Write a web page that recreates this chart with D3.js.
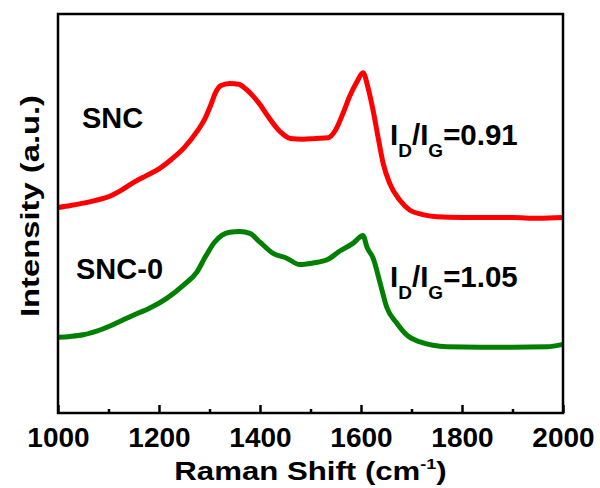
<!DOCTYPE html>
<html>
<head>
<meta charset="utf-8">
<script src="https://cdn.jsdelivr.net/npm/d3@7"></script>
<style>
  body { margin: 0; background: #fff; }
  text { font-family: "Liberation Sans", Arial, sans-serif; font-weight: bold; fill: #000; }
</style>
</head>
<body>
<div id="chart"></div>
<script>
// Raman spectra (intensity in arbitrary units)
const sncShift = [1000, 1025, 1050, 1075, 1100, 1125, 1150, 1175, 1200, 1225, 1250, 1275, 1290, 1302, 1312, 1322, 1340, 1358, 1372, 1385, 1400, 1415, 1440, 1460, 1485, 1510, 1535, 1550, 1565, 1578, 1592, 1604, 1614, 1624, 1634, 1644, 1657, 1677, 1697, 1720, 1750, 1800, 1850, 1900, 1950, 2000];
const sncIntensity = [51.5, 52, 52.6, 53.3, 54.2, 55.8, 57.8, 59.5, 61.2, 63.6, 66.5, 70.5, 73.5, 77, 80.3, 82, 82.6, 82.4, 81.2, 79.6, 77.3, 74.5, 70.5, 68.8, 68.6, 68.8, 69, 71, 75.3, 79.5, 83, 85.3, 81.5, 75.8, 69, 62.5, 57.5, 53.3, 50.8, 49.8, 49.2, 49, 49, 49, 48.8, 49];

const snc0Shift = [1000, 1024, 1050, 1083, 1117, 1149, 1182, 1216, 1248, 1275, 1292, 1310, 1325, 1340, 1360, 1380, 1400, 1426, 1453, 1479, 1505, 1533, 1558, 1584, 1604, 1612, 1624, 1638, 1651, 1671, 1691, 1717, 1770, 1836, 1901, 1968, 2000];
const snc0Intensity = [19, 19.2, 19.6, 20.8, 22.6, 24.5, 26.3, 28.8, 32, 35.3, 39.2, 42.8, 44.6, 45.3, 45.5, 45, 42.8, 40, 38.8, 37.2, 37.6, 38.4, 40.6, 42.5, 44.5, 41.5, 38.8, 32.5, 26.5, 22.5, 19.5, 17.8, 16.6, 16.5, 16.5, 16.6, 17.2];

const xTicks = [1000, 1200, 1400, 1600, 1800, 2000];
const xMinorTicks = [1100, 1300, 1500, 1700, 1900];

const width = 600, height = 488;
const margin = { top: 14, right: 37, bottom: 75, left: 58 };

const svg = d3.select('#chart')
    .append('svg')
    .attr('width', width)
    .attr('height', height);

const x = d3.scaleLinear()
    .domain([1000, 2000])
    .range([margin.left, width - margin.right]);

const y = d3.scaleLinear()
    .domain([0, 100])
    .range([height - margin.bottom, margin.top]);

const line = d3.line()
    .x(d => x(d[0]))
    .y(d => y(d[1]))
    .curve(d3.curveMonotoneX);

// spectra
svg.append('path')
    .datum(d3.zip(sncShift, sncIntensity))
    .attr('d', line)
    .attr('fill', 'none')
    .attr('stroke', '#ff0000')
    .attr('stroke-width', 5)
    .attr('stroke-linejoin', 'round');

svg.append('path')
    .datum(d3.zip(snc0Shift, snc0Intensity))
    .attr('d', line)
    .attr('fill', 'none')
    .attr('stroke', '#008000')
    .attr('stroke-width', 5)
    .attr('stroke-linejoin', 'round');

// bottom axis, ticks pointing inward
const xAxis = svg.append('g')
    .attr('transform', `translate(0,${y(0)})`)
    .call(d3.axisBottom(x).tickValues(xTicks).tickSize(-8).tickPadding(14).tickFormat(d3.format('d')));
xAxis.select('.domain').remove();
xAxis.selectAll('line').attr('stroke', '#000').attr('stroke-width', 2.5);
xAxis.selectAll('text').style('font-size', '28px').attr('fill', '#000');

const xMinor = svg.append('g')
    .attr('transform', `translate(0,${y(0)})`)
    .call(d3.axisBottom(x).tickValues(xMinorTicks).tickSize(-4).tickFormat(''));
xMinor.select('.domain').remove();
xMinor.selectAll('line').attr('stroke', '#000').attr('stroke-width', 2.5);

// frame
svg.append('rect')
    .attr('x', margin.left)
    .attr('y', margin.top)
    .attr('width', width - margin.left - margin.right)
    .attr('height', height - margin.bottom - margin.top)
    .attr('fill', 'none')
    .attr('stroke', '#000')
    .attr('stroke-width', 2.5);

// axis titles (the original lettering is a little stretched along the text)
const xTitle = svg.append('text')
    .attr('transform', `translate(${(margin.left + width - margin.right) / 2},480) scale(1.2,1)`)
    .attr('text-anchor', 'middle')
    .style('font-size', '26px');
xTitle.append('tspan').text('Raman Shift (cm');
xTitle.append('tspan').attr('dy', -11).style('font-size', '15px').text('-1');
xTitle.append('tspan').attr('dy', 11).text(')');

svg.append('text')
    .attr('transform', `translate(39,206) rotate(-90) scale(1.26,1)`)
    .attr('text-anchor', 'middle')
    .style('font-size', '26px')
    .text('Intensity (a.u.)');

// sample labels
svg.append('text').attr('x', 82).attr('y', 128).style('font-size', '29px').text('SNC');
svg.append('text').attr('x', 76).attr('y', 279).style('font-size', '29px').text('SNC-0');

function ratioLabel(px, py, value) {
    const t = svg.append('text').attr('x', px).attr('y', py).style('font-size', '29.5px');
    t.append('tspan').text('I');
    t.append('tspan').attr('dy', 12).style('font-size', '19px').text('D');
    t.append('tspan').attr('dy', -12).text('/I');
    t.append('tspan').attr('dy', 12).style('font-size', '19px').text('G');
    t.append('tspan').attr('dy', -12).text('=' + value);
}
ratioLabel(390, 145, '0.91');
ratioLabel(390, 287, '1.05');
</script>
</body>
</html>
